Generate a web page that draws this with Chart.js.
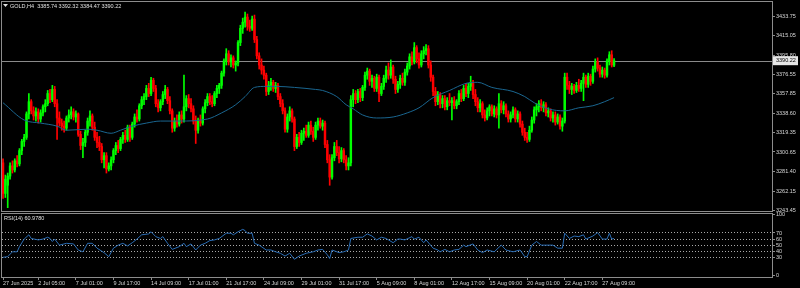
<!DOCTYPE html>
<html>
<head>
<meta charset="UTF-8">
<title>GOLD,H4</title>
<script src="https://cdn.jsdelivr.net/npm/chart.js@4.4.1/dist/chart.umd.min.js"></script>
<style>
  html, body { margin: 0; padding: 0; background: #000; }
  body { width: 800px; height: 288px; position: relative; overflow: hidden; }
  canvas { position: absolute; left: 0; }
  #main { top: 0; }
  #rsi { top: 204px; }
</style>
</head>
<body>
<canvas id="main" width="800" height="212"></canvas>
<canvas id="rsi" width="800" height="84"></canvas>
<script>
// H4 candles, 27 Jun -> 28 Aug 2025
const opens = [
  3290,3260,3268,3277,3287,3283,3292,3289,3302,3311,
  3315,3338,3350,3341,3336,3340,3333,3339,3345,3348,
  3358,3352,3362,3348,3334,3329,3326,3324,3334,3337,
  3340,3335,3338,3318,3307,3310,3320,3331,3336,3325,
  3315,3310,3306,3293,3297,3284,3287,3293,3302,3307,
  3304,3313,3317,3313,3325,3315,3328,3335,3333,3346,
  3352,3355,3363,3358,3371,3363,3348,3344,3350,3357,
  3362,3351,3341,3324,3331,3328,3337,3333,3345,3353,
  3348,3343,3331,3322,3332,3329,3343,3349,3355,3350,
  3348,3358,3363,3366,3378,3390,3397,3389,3393,3386,
  3388,3408,3422,3428,3433,3424,3422,3431,3411,3395,
  3386,3381,3376,3360,3366,3369,3363,3366,3355,3348,
  3341,3323,3335,3341,3333,3306,3315,3310,3319,3321,
  3317,3327,3321,3315,3327,3331,3326,3329,3308,3293,
  3276,3295,3306,3300,3294,3302,3293,3287,3290,3352,
  3358,3352,3360,3354,3364,3376,3380,3370,3373,3363,
  3374,3358,3365,3373,3381,3376,3384,3372,3362,3367,
  3373,3369,3379,3385,3394,3389,3403,3392,3386,3397,
  3400,3402,3386,3374,3360,3350,3357,3348,3353,3345,
  3351,3349,3351,3346,3350,3358,3353,3363,3358,3365,
  3369,3357,3350,3344,3348,3337,3334,3341,3345,3338,
  3343,3337,3348,3342,3346,3338,3333,3337,3342,3333,
  3338,3328,3320,3315,3313,3322,3332,3342,3345,3348,
  3344,3347,3339,3341,3334,3337,3330,3335,3326,3331,
  3374,3366,3362,3365,3361,3366,3363,3368,3374,3367,
  3375,3370,3382,3389,3383,3377,3381,3376,3390,3396,
  3385.74
];
const highs = [
  3294,3278,3280,3290,3292,3294,3297,3304,3313,3318,
  3340,3358,3352,3345,3344,3343,3342,3347,3352,3361,
  3362,3366,3365,3352,3340,3333,3331,3336,3342,3345,
  3343,3341,3339,3321,3314,3322,3334,3341,3338,3330,
  3320,3316,3309,3300,3300,3290,3296,3304,3310,3312,
  3315,3320,3322,3327,3327,3330,3338,3342,3348,3355,
  3358,3366,3368,3374,3373,3366,3352,3352,3360,3366,
  3364,3355,3343,3334,3337,3340,3341,3376,3356,3357,
  3353,3346,3336,3334,3337,3345,3352,3358,3358,3356,
  3360,3366,3368,3380,3392,3402,3400,3396,3395,3390,
  3410,3425,3432,3438,3436,3430,3434,3435,3414,3398,
  3392,3385,3378,3370,3373,3371,3369,3368,3358,3352,
  3344,3338,3345,3343,3335,3318,3320,3322,3324,3327,
  3330,3331,3325,3330,3334,3334,3332,3331,3312,3298,
  3298,3310,3312,3306,3305,3304,3297,3295,3356,3362,
  3361,3362,3363,3366,3379,3383,3382,3376,3375,3377,
  3376,3368,3376,3385,3388,3391,3386,3375,3370,3376,
  3378,3382,3388,3397,3399,3408,3405,3398,3400,3404,
  3406,3405,3390,3376,3364,3360,3359,3356,3356,3354,
  3358,3354,3355,3352,3361,3362,3366,3368,3368,3375,
  3371,3362,3354,3352,3350,3342,3344,3347,3347,3346,
  3345,3358,3351,3350,3348,3341,3340,3345,3344,3341,
  3340,3331,3324,3320,3326,3335,3345,3348,3351,3352,
  3350,3349,3344,3343,3340,3340,3338,3337,3334,3378,
  3378,3370,3368,3367,3369,3372,3371,3378,3376,3378,
  3377,3385,3392,3393,3386,3384,3383,3392,3399,3400,
  3392.32
];
const lows = [
  3255,3256,3246,3274,3280,3281,3286,3287,3298,3306,
  3313,3333,3338,3332,3331,3329,3330,3336,3340,3346,
  3349,3350,3345,3313,3326,3322,3320,3322,3330,3333,
  3332,3330,3316,3303,3295,3306,3317,3326,3322,3312,
  3305,3302,3290,3285,3280,3282,3283,3290,3298,3300,
  3302,3309,3310,3311,3311,3313,3325,3330,3331,3343,
  3347,3352,3355,3356,3360,3345,3340,3341,3347,3353,
  3348,3338,3320,3321,3325,3326,3329,3330,3341,3344,
  3340,3328,3309,3319,3326,3327,3339,3346,3347,3345,
  3346,3354,3358,3363,3375,3386,3386,3384,3383,3380,
  3385,3405,3417,3423,3420,3419,3420,3408,3392,3382,
  3377,3372,3356,3357,3361,3360,3359,3352,3345,3338,
  3320,3320,3331,3330,3302,3304,3306,3308,3312,3315,
  3315,3318,3311,3313,3322,3324,3322,3305,3290,3268,
  3274,3292,3297,3290,3291,3290,3283,3283,3287,3345,
  3348,3349,3350,3351,3361,3372,3366,3364,3360,3360,
  3350,3356,3362,3369,3372,3373,3368,3358,3359,3363,
  3366,3366,3376,3382,3386,3387,3388,3383,3384,3392,
  3396,3383,3370,3356,3346,3347,3344,3344,3342,3342,
  3346,3332,3343,3343,3347,3350,3351,3355,3354,3361,
  3353,3346,3340,3340,3334,3331,3332,3336,3336,3335,
  3334,3324,3339,3338,3335,3330,3330,3334,3330,3330,
  3325,3317,3312,3310,3311,3320,3329,3336,3340,3341,
  3340,3336,3335,3331,3330,3327,3328,3323,3321,3329,
  3362,3358,3357,3358,3359,3360,3360,3351,3364,3364,
  3366,3368,3379,3380,3374,3374,3373,3374,3386,3384,
  3384.47
];
const closes = [
  3260,3274,3277,3287,3283,3292,3289,3302,3311,3315,
  3338,3350,3341,3336,3340,3333,3339,3345,3348,3358,
  3352,3362,3348,3334,3329,3326,3324,3334,3337,3340,
  3335,3338,3318,3307,3310,3320,3331,3336,3325,3315,
  3310,3306,3293,3297,3284,3287,3293,3302,3307,3304,
  3313,3317,3313,3325,3315,3328,3335,3333,3346,3352,
  3355,3363,3358,3371,3363,3348,3344,3350,3357,3362,
  3351,3341,3324,3331,3328,3337,3333,3345,3353,3348,
  3343,3331,3322,3332,3329,3343,3349,3355,3350,3348,
  3358,3363,3366,3378,3390,3397,3389,3393,3386,3388,
  3408,3422,3428,3433,3424,3422,3431,3411,3395,3386,
  3381,3376,3360,3366,3369,3363,3366,3355,3348,3341,
  3323,3335,3341,3333,3306,3315,3310,3319,3321,3317,
  3327,3321,3315,3327,3331,3326,3329,3308,3293,3276,
  3295,3306,3300,3294,3302,3293,3287,3290,3352,3358,
  3352,3360,3354,3364,3376,3380,3370,3373,3363,3374,
  3358,3365,3373,3381,3376,3384,3372,3362,3367,3373,
  3369,3379,3385,3394,3389,3403,3392,3386,3397,3400,
  3402,3386,3374,3360,3350,3357,3348,3353,3345,3351,
  3349,3351,3346,3350,3358,3353,3363,3358,3365,3369,
  3357,3350,3344,3348,3337,3334,3341,3345,3338,3343,
  3337,3348,3342,3346,3338,3333,3337,3342,3333,3338,
  3328,3320,3315,3313,3322,3332,3342,3345,3348,3344,
  3347,3339,3341,3334,3337,3330,3335,3326,3331,3374,
  3366,3362,3365,3361,3366,3363,3368,3374,3367,3375,
  3370,3382,3389,3383,3377,3381,3376,3390,3396,3386,
  3390.22
];

// moving average, sampled at bar numbers
const maBars = [0,9,16,23,27,36,40,46,50,55,61,67,75,87,93,99,103,107,112,116,
  124,133,136,142,146,149,153,159,166,172,177,183,190,197,202,208,217,222,226,232,
  239,245,251,256,260];
const maValues = [3349,3332,3329,3326,3322,3323,3322,3319,3322,3326,3329,3331,3331,3333,3339,3347,3355,3364,3365,3365,
  3364,3362,3361,3355,3347,3343,3337,3334,3335,3339,3344,3354,3361,3368,3369,3364,3360,3355,3349,3343,
  3341,3344,3346,3350,3354];

// RSI(14), sampled at bar numbers
const rsiBars = [0,2,4,6,7,9,11,12,15,17,19,20,21,22,24,27,30,32,34,36,
  38,40,43,45,47,49,51,53,55,57,59,62,63,65,67,68,70,72,75,77,
  78,80,82,84,86,88,90,92,95,97,98,100,102,103,104,106,107,109,112,114,
  116,118,120,122,124,126,129,132,134,136,138,139,140,143,145,147,148,151,153,155,
  157,159,161,163,166,168,169,171,174,175,177,179,180,183,185,186,188,190,192,194,
  196,197,200,202,204,206,209,212,214,217,220,222,223,225,227,229,231,234,236,238,
  239,241,243,245,247,248,251,253,255,257,258,259,260];
const rsiValues = [30,31,39,39,47.5,60,67,61,58.6,60,63,61,56,60,50,53,52,42,39,53,
  53,45,37.6,31,45,50,53,48.7,54,60,67,68.5,72,64,61,64,53,43,47.5,53,
  47.5,52,42,50,53,57.5,58.6,61,69.6,69.6,67,72,76,74,69.6,69.6,53,50,42,42,
  39,36.6,32,36.6,26.7,32,36.6,39,42,43,34,28,42,37.6,39,42,61,63,63,68.5,
  65,58.6,63,61,54,60,60,58.6,64,60,63,54,58.6,45,42,39,43,39,42,43,
  50,47.5,52,42,37.6,42,39,50,42,39,42,31,31,50,56,50,50,50,45,45,
  69.6,61,65,64,67,60,65,70.7,60,60,69.6,60,60.978];

const priceTicks = [3433.75, 3415.05, 3395.80, 3376.55, 3357.85, 3338.60, 3319.35, 3300.65, 3281.40, 3262.15, 3243.45];
const rsiTicks = [0, 30, 40, 50, 60, 70, 100];
const rsiLevels = [30, 40, 50, 60, 70];
const timeTickBars = [0, 15, 31, 47, 63, 79, 95, 111, 127, 143, 159, 175, 191, 207, 223, 239, 255];
const timeTickLabels = ['27 Jun 2025', '2 Jul 05:00', '7 Jul 01:00', '9 Jul 17:00', '14 Jul 09:00', '17 Jul 01:00',
  '21 Jul 17:00', '24 Jul 09:00', '29 Jul 01:00', '31 Jul 17:00', '5 Aug 09:00', '8 Aug 01:00',
  '12 Aug 17:00', '15 Aug 09:00', '20 Aug 01:00', '22 Aug 17:00', '27 Aug 09:00'];

const last = closes.length - 1;
const xMin = -0.43, xMax = 327.2;
const fontFamily = "'Liberation Sans', Arial, sans-serif";
const axisFont = { family: fontFamily, size: 5.5 };
const textColor = '#d6d6d6';
const frameColor = '#8c8c8c';
const upColor = '#00ff00', downColor = '#ff0000';

const candleColor = ctx => closes[ctx.dataIndex] >= opens[ctx.dataIndex] ? upColor : downColor;

// fixed axis sizes so both panes line up
const fitY = s => { s.width = 28; s.paddingTop = 0; s.paddingBottom = 0; };
const fitX = s => { s.height = 11; s.paddingLeft = 0; s.paddingRight = 0; };

const frame = {
  id: 'frame',
  afterDraw(chart) {
    const a = chart.chartArea, ctx = chart.ctx;
    ctx.save();
    ctx.strokeStyle = frameColor;
    ctx.lineWidth = 1;
    ctx.strokeRect(a.left - 0.5, a.top - 0.5, a.right - a.left + 1, a.bottom - a.top + 1);
    ctx.restore();
  }
};

const bidLine = {
  id: 'bidLine',
  beforeDatasetsDraw(chart) {
    const a = chart.chartArea, ctx = chart.ctx;
    const y = Math.round(chart.scales.y.getPixelForValue(closes[last])) + 0.5;
    ctx.save();
    ctx.strokeStyle = '#8a8a8a';
    ctx.beginPath(); ctx.moveTo(a.left, y); ctx.lineTo(a.right, y); ctx.stroke();
    ctx.restore();
  },
  afterDraw(chart) {
    const a = chart.chartArea, ctx = chart.ctx;
    const y = chart.scales.y.getPixelForValue(closes[last]);
    ctx.save();
    ctx.font = `5.5px ${fontFamily}`;
    ctx.textBaseline = 'middle';
    // title
    ctx.fillStyle = '#e0e0e0';
    ctx.beginPath(); ctx.moveTo(3, 4); ctx.lineTo(8, 4); ctx.lineTo(5.5, 7); ctx.closePath(); ctx.fill();
    ctx.fillText('GOLD,H4  ' + [opens[last], highs[last], lows[last], closes[last]].map(v => v.toFixed(2)).join(' '), 10, 6);
    // price box
    ctx.fillStyle = '#e6e6e6';
    ctx.fillRect(a.right + 1, y - 4.5, 25, 9);
    ctx.fillStyle = '#000';
    ctx.fillText(closes[last].toFixed(2), a.right + 4, y);
    ctx.restore();
  }
};

const rsiLabel = {
  id: 'rsiLabel',
  afterDraw(chart) {
    const ctx = chart.ctx;
    ctx.save();
    ctx.font = `5.5px ${fontFamily}`;
    ctx.textBaseline = 'middle';
    ctx.fillStyle = '#e0e0e0';
    ctx.fillText('RSI(14) ' + rsiValues[rsiValues.length - 1].toFixed(4), 4, chart.chartArea.top + 4.5);
    ctx.restore();
  }
};

new Chart(document.getElementById('main'), {
  type: 'bar',
  data: {
    datasets: [
      {
        type: 'line',
        data: maBars.map((b, k) => ({ x: b, y: maValues[k] })),
        borderColor: '#1a6690',
        borderWidth: 1,
        pointRadius: 0,
        cubicInterpolationMode: 'monotone',
        order: 0
      },
      {
        data: closes.map((c, i) => ({ x: i, y: [opens[i], c] })),
        backgroundColor: candleColor,
        barThickness: 1.8,
        grouped: false,
        order: 1
      },
      {
        data: closes.map((c, i) => ({ x: i, y: [lows[i], highs[i]] })),
        backgroundColor: candleColor,
        barThickness: 1,
        grouped: false,
        order: 2
      }
    ]
  },
  options: {
    responsive: false,
    animation: false,
    events: [],
    layout: { padding: { left: 2, top: 2, right: 0, bottom: 1 } },
    plugins: { legend: { display: false }, tooltip: { enabled: false } },
    scales: {
      x: { type: 'linear', display: false, min: xMin, max: xMax, offset: false },
      y: {
        position: 'right',
        min: 3242.75,
        max: 3447.8,
        beginAtZero: false,
        bounds: 'data',
        afterBuildTicks: s => { s.ticks = priceTicks.map(v => ({ value: v })); },
        afterFit: fitY,
        grid: { drawOnChartArea: false, drawTicks: true, tickLength: 3, color: frameColor },
        border: { display: false },
        ticks: { color: textColor, font: axisFont, padding: 1, callback: v => v.toFixed(2) }
      }
    }
  },
  plugins: [bidLine, frame]
});

new Chart(document.getElementById('rsi'), {
  type: 'line',
  data: {
    datasets: [{
      data: rsiBars.map((b, k) => ({ x: b, y: rsiValues[k] })),
      borderColor: '#2a6db5',
      borderWidth: 1,
      pointRadius: 0,
      tension: 0
    }]
  },
  options: {
    responsive: false,
    animation: false,
    events: [],
    layout: { padding: { left: 2, top: 10, right: 0, bottom: 0 } },
    plugins: { legend: { display: false }, tooltip: { enabled: false } },
    scales: {
      x: {
        type: 'linear',
        min: xMin,
        max: xMax,
        offset: false,
        afterBuildTicks: s => { s.ticks = timeTickBars.map(v => ({ value: v })); },
        afterFit: fitX,
        grid: { drawOnChartArea: false, drawTicks: true, tickLength: 3, color: frameColor },
        border: { display: false },
        ticks: {
          color: textColor, font: axisFont, padding: 0, align: 'start',
          maxRotation: 0, autoSkip: false,
          callback: (v, k) => timeTickLabels[k]
        }
      },
      y: {
        position: 'right',
        min: -2.5,
        max: 101.3,
        beginAtZero: false,
        bounds: 'data',
        afterBuildTicks: s => { s.ticks = rsiTicks.map(v => ({ value: v })); },
        afterFit: fitY,
        grid: {
          drawOnChartArea: true,
          drawTicks: true,
          tickLength: 3,
          tickColor: frameColor,
          color: ctx => rsiLevels.includes(ctx.tick.value) ? '#a8a8a8' : 'rgba(0,0,0,0)'
        },
        border: { display: false, dash: [1, 2] },
        ticks: { color: textColor, font: axisFont, padding: 1 }
      }
    }
  },
  plugins: [frame, rsiLabel]
});
</script>
</body>
</html>
